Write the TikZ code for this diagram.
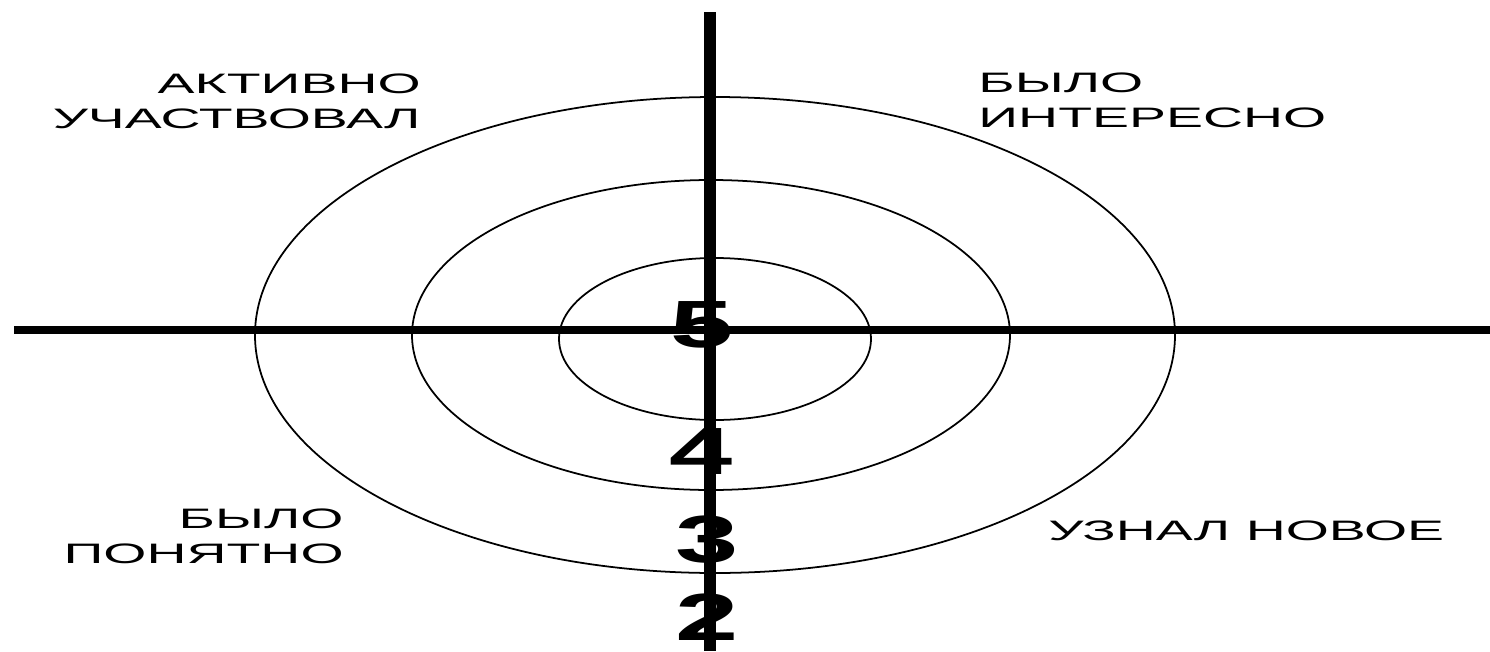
\documentclass[tikz,border=0pt]{standalone}
\usepackage{fontspec}
\setmainfont{Liberation Sans}
\usepackage{tikz}
\usetikzlibrary{positioning}

\begin{document}
\begin{tikzpicture}[x=0.01cm, y=-0.01cm,
    lbl/.style={font=\fontsize{8}{10}\selectfont, inner sep=0pt, xscale=1.97},
    mark5/.style={font=\fontsize{19}{19}\selectfont\bfseries, inner sep=0pt, xscale=1.7}]
    \useasboundingbox (0,0) rectangle (1490,651);
    % target rings
    \draw[line width=0.5pt] (715,335) ellipse [x radius=460, y radius=238];
    \draw[line width=0.5pt] (711,335) ellipse [x radius=299, y radius=155];
    \draw[line width=0.5pt] (715,339) ellipse [x radius=156, y radius=81];
    % axes
    \draw[line width=2pt] (14,330) -- (1490,330);
    \draw[line width=3.6pt] (710,12) -- (710,651);
    % scores
    \node[mark5] (s5) at (702,325) {5};
    \node[mark5] (s4) at (701,452) {4};
    \node[mark5] (s3) at (707,540) {3};
    \node[mark5] (s2) at (707,617) {2};
    % quadrant labels
    \node[lbl, align=right, anchor=north east] (active) at (422,73) {АКТИВНО\\УЧАСТВОВАЛ};
    \node[lbl, align=left, anchor=north west] (interest) at (977,72) {БЫЛО\\ИНТЕРЕСНО};
    \node[lbl, align=right, anchor=north east] (clear) at (345,508) {БЫЛО\\ПОНЯТНО};
    \node[lbl, anchor=north west] (learned) at (1047,520) {УЗНАЛ НОВОЕ};
\end{tikzpicture}
\end{document}
